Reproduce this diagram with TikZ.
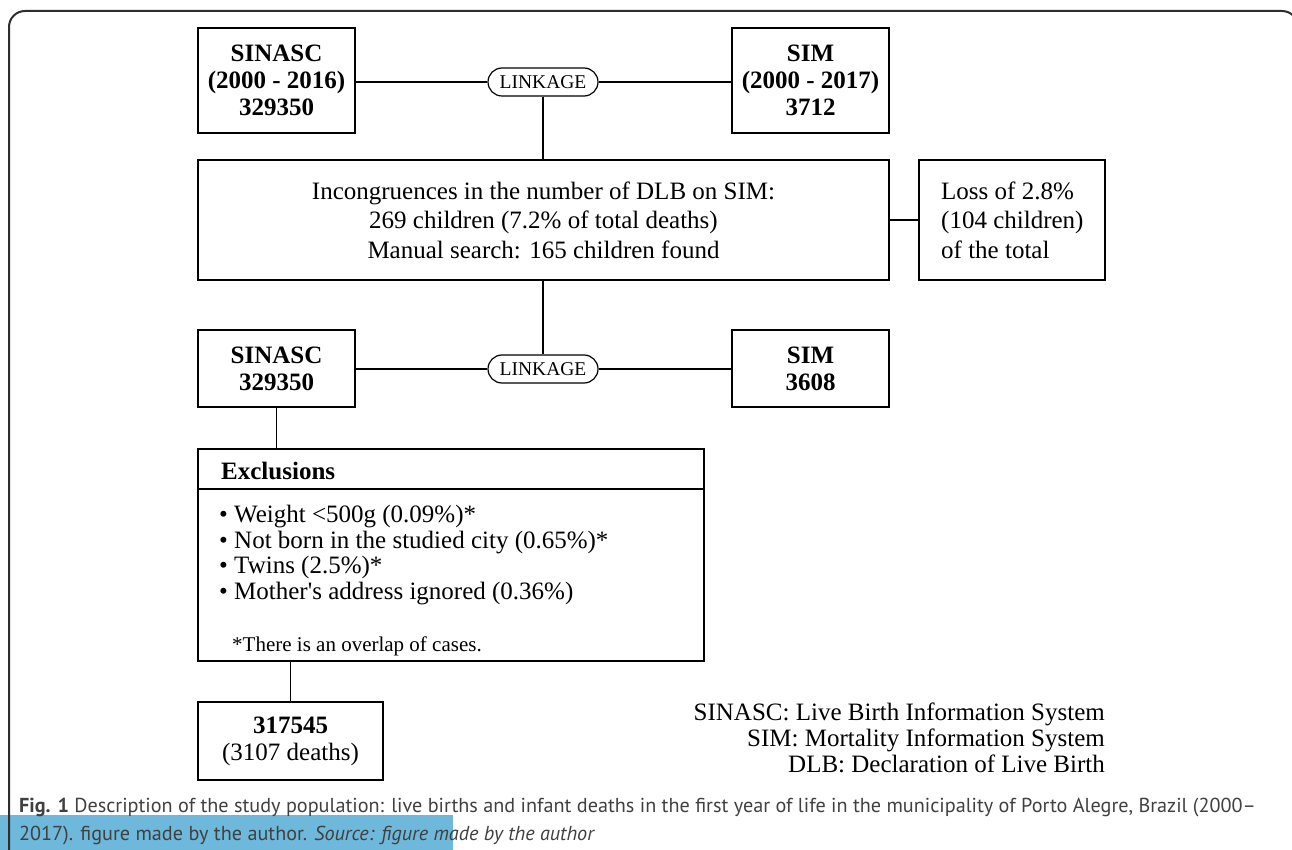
\documentclass[tikz,border=0pt]{standalone}
\usepackage{fontspec}
\setmainfont{Liberation Serif}
\newfontfamily\capfont[Ligatures=TeX]{PT Sans}
\usetikzlibrary{shapes.misc}
\definecolor{capgray}{HTML}{404040}
\definecolor{hlblue}{HTML}{6DB8DB}
\definecolor{framegray}{HTML}{2E2E2E}
\newcommand{\boldbig}{\fontsize{25}{27}\selectfont\bfseries}
\newcommand{\normbig}{\fontsize{25}{29.5}\selectfont}
\newcommand{\exfont}{\fontsize{25}{25.5}\selectfont}
\begin{document}
\begin{tikzpicture}[x=1pt,y=-1pt,
  box/.style={draw=black, line width=1.2pt, inner sep=0pt, align=center},
  pill/.style={draw=black, line width=1.2pt, shape=rounded rectangle, inner sep=0pt,
    minimum width=110pt, minimum height=28pt, font=\fontsize{19.5}{21}\selectfont},
  conn/.style={draw=black, line width=1.2pt},
  txt/.style={inner sep=0pt, anchor=base west},
]
\useasboundingbox (0,0) rectangle (1292,850);
% highlight and frame
\fill[hlblue] (0,815) rectangle (453,850);
\draw[framegray, line width=2pt, rounded corners=16pt] (9,860) -- (9,11) -- (1298,11) -- (1298,860);

% top row
\node[box, minimum width=157pt, minimum height=105pt, font=\boldbig] (sinasc1) at (276.5,80.5) {SINASC\\(2000 - 2016)\\329350};
\node[box, minimum width=157pt, minimum height=105pt, font=\boldbig] (sim1) at (810.5,80.5) {SIM\\(2000 - 2017)\\3712};
\node[pill] (link1) at (543,82) {LINKAGE};

% middle
\node[box, minimum width=691pt, minimum height=120pt, font=\normbig] (mid) at (543.5,220) {Incongruences in the number of DLB on SIM:\\269 children (7.2\% of total deaths)\\Manual search: 165 children found};
\node[box, minimum width=186pt, minimum height=120pt] (loss) at (1012,220) {};
\node[inner sep=0pt, anchor=west, align=left, font=\normbig] (losstxt) at (941,220) {Loss of 2.8\%\\(104 children)\\of the total};

% second row
\node[box, minimum width=157pt, minimum height=77pt, font=\boldbig] (sinasc2) at (276.5,368.5) {SINASC\\329350};
\node[box, minimum width=157pt, minimum height=77pt, font=\boldbig] (sim2) at (810.5,368.5) {SIM\\3608};
\node[pill] (link2) at (543,369) {LINKAGE};

% exclusions
\node[box, minimum width=506pt, minimum height=40pt] (exhead) at (451,469) {};
\node[box, minimum width=506pt, minimum height=172pt] (exbody) at (451,575) {};
\node[txt, font=\exfont\bfseries] (exlabel) at (221,479) {Exclusions};
\node[txt, font=\exfont] (ex1) at (219,522) {• Weight <500g (0.09\%)*};
\node[txt, font=\exfont] (ex2) at (219,548) {• Not born in the studied city (0.65\%)*};
\node[txt, font=\exfont] (ex3) at (219,573) {• Twins (2.5\%)*};
\node[txt, font=\exfont] (ex4) at (219,599) {• Mother\textquotesingle s address ignored (0.36\%)};
\node[txt, font=\fontsize{21}{23}\selectfont] (exnote) at (232,651) {*There is an overlap of cases.};

% final
\node[box, minimum width=185pt, minimum height=78pt] (final) at (290.5,741) {};
\node[inner sep=0pt, align=center, font=\fontsize{25}{27}\selectfont] (finaltxt) at (290.5,741) {\textbf{317545}\\(3107 deaths)};

% legend
\node[inner sep=0pt, anchor=east, align=right, font=\fontsize{25}{26}\selectfont] (legend) at (1105,738) {SINASC: Live Birth Information System\\SIM: Mortality Information System\\DLB: Declaration of Live Birth};

% connectors
\draw[conn] (sinasc1.east |- link1.west) -- (link1.west);
\draw[conn] (link1.east) -- (sim1.west |- link1.east);
\draw[conn] (link1.south) -- (mid.north -| link1.south);
\draw[conn] (mid.east) -- (loss.west);
\draw[conn] (mid.south -| link2.north) -- (link2.north);
\draw[conn] (sinasc2.east |- link2.west) -- (link2.west);
\draw[conn] (link2.east) -- (sim2.west |- link2.east);
\draw[conn] (sinasc2.south) -- (exhead.north -| sinasc2.south);
\draw[conn] (exbody.south -| final.north) -- (final.north);

% caption
\node[txt, text=capgray, font=\capfont\fontsize{20.2}{28}\selectfont] (cap1) at (19,812) {\textbf{Fig. 1} Description of the study population: live births and infant deaths in the first year of life in the municipality of Porto Alegre, Brazil (2000–};
\node[txt, text=capgray, font=\capfont\fontsize{20.2}{28}\selectfont] (cap2) at (19,840) {2017). figure made by the author. \textit{Source: figure made by the author}};
\end{tikzpicture}
\end{document}
